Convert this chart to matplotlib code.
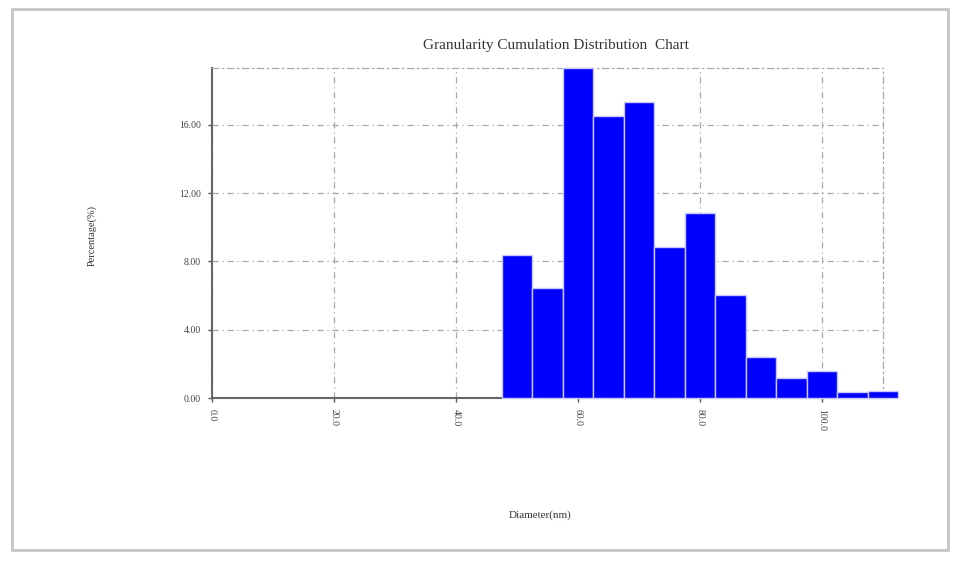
import matplotlib
matplotlib.use("Agg")
import matplotlib.pyplot as plt
from matplotlib.patches import Rectangle

# ---- data ----
diameters = [50, 55, 60, 65, 70, 75, 80, 85, 90, 95, 100, 105, 110]
percentages = [8.37, 6.42, 19.33, 16.49, 17.33, 8.82, 10.86, 6.03, 2.43, 1.20, 1.59, 0.33, 0.39]
x_ticks = [0, 20, 40, 60, 80, 100]
x_tick_labels = ["0.0", "20.0", "40.0", "60.0", "80.0", "100.0"]
y_ticks = [0, 4, 8, 12, 16]
y_tick_labels = ["0.00", "4.00", "8.00", "12.00", "16.00"]
bin_width = 5

plt.rcParams['font.family'] = ['Liberation Serif', 'DejaVu Serif']

W, H = 959, 561
fig = plt.figure(figsize=(W / 100, H / 100), dpi=100)
fig.patch.set_facecolor('white')

# outer frame
fig.patches.append(Rectangle((12 / W, 1 - 550 / H), (948 - 12) / W, (550 - 9) / H,
                             transform=fig.transFigure, fill=False,
                             edgecolor='#c4c4c4', linewidth=2))

left, right, bottom, top = 212 / W, 883 / W, 1 - 398 / H, 1 - 68 / H
ax = fig.add_axes([left, bottom, right - left, top - bottom])

grid_ls = (0, (5, 3, 1, 3))
grid_col = '#a8a8a8'

ax.bar(diameters, percentages, width=bin_width, color='#0000ff',
       edgecolor='#c8c8ff', linewidth=1.0, clip_on=False, zorder=3)

ax.set_xlim(0, 110)
ax.set_ylim(0, max(percentages))

ax.set_xticks(x_ticks)
ax.set_xticklabels(x_tick_labels, rotation=-90, fontsize=7, color='#444444')
ax.set_yticks(y_ticks)
ax.set_yticklabels(y_tick_labels, fontsize=7, color='#444444')
ax.tick_params(axis='both', direction='out', length=3, width=1, color='#555555', pad=5)

ax.grid(True, linestyle=grid_ls, color=grid_col, linewidth=0.9, zorder=0)
ax.set_axisbelow(True)

for s in ['left', 'bottom']:
    ax.spines[s].set_color('#666666')
    ax.spines[s].set_linewidth(1.5)
for s in ['top', 'right']:
    ax.spines[s].set_color(grid_col)
    ax.spines[s].set_linewidth(0.9)
    ax.spines[s].set_linestyle(grid_ls)

fig.text(0.580, 1 - 45 / H, "Granularity Cumulation Distribution  Chart",
         ha='center', va='center', fontsize=11, color='#333333')
fig.text(540 / W, 1 - 515 / H, "Diameter(nm)", ha='center', va='center',
         fontsize=8, color='#333333')
fig.text(92 / W, 1 - 235 / H, "Percentage(%)", ha='center', va='center',
         rotation=90, fontsize=7.5, color='#333333')

fig.savefig("out.png", dpi=100, facecolor='white')
